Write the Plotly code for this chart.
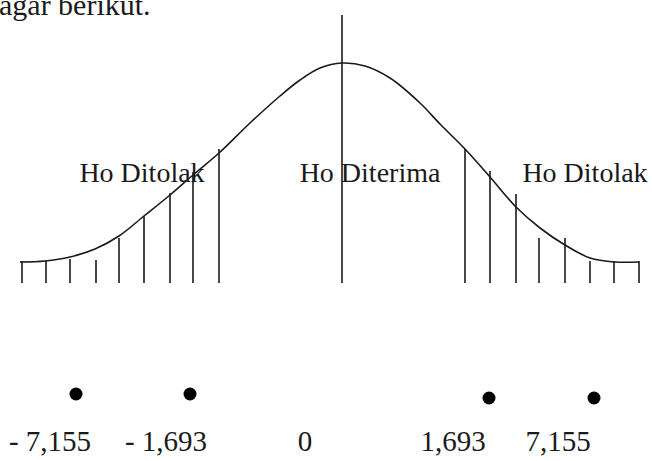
import plotly.graph_objects as go

# bell curve (x: offset from the centre line, y: height above the hatch base)
curve_x = [-322, -297, -272, -247, -223, -198, -172, -149, -123, -92, -62, -42, -22, 0,
           23, 48, 78, 98, 123, 148, 174, 198, 223, 248, 273, 297]
curve_y = [21, 22, 26, 34, 47, 67, 88, 108, 130, 160, 187, 203, 215, 220,
           217, 205, 180, 159, 134, 106, 76, 55, 38, 25, 21, 21]

# hatching of the rejection regions
left_hatch_x = [-320, -296, -272, -246, -223, -198, -172, -149, -123]
left_hatch_top = [22, 22, 24, 23, 45, 67, 90, 111, 134]
right_hatch_x = [123, 148, 174, 197, 223, 248, 272, 297]
right_hatch_top = [134, 112, 89, 45, 45, 22, 22, 22]

centre_top = 268

region_text = ["Ho Ditolak", "Ho Diterima", "Ho Ditolak"]
region_x = [-200, 28, 243]
region_y = [108, 108, 108]

dot_x = [-266, -152, 147, 252]
dot_y = [-111, -111, -115, -115]

tick_text = ["- 7,155", "- 1,693", "0", "1,693", "7,155"]
tick_x = [-292, -176, -37, 111, 216]
tick_y = -161

ink = "#1a1a1a"
serif = "Liberation Serif, Times New Roman, serif"

hx, hy = [], []
for xs, tops in ((left_hatch_x, left_hatch_top), (right_hatch_x, right_hatch_top)):
    for x, t in zip(xs, tops):
        hx += [x, x, None]
        hy += [0, t, None]

fig = go.Figure()
fig.add_trace(go.Scatter(x=hx, y=hy, mode="lines", line=dict(color=ink, width=1.6),
                         hoverinfo="skip"))
fig.add_trace(go.Scatter(x=[0, 0], y=[0, centre_top], mode="lines",
                         line=dict(color=ink, width=1.6), hoverinfo="skip"))
fig.add_trace(go.Scatter(x=curve_x, y=curve_y, mode="lines",
                         line=dict(color=ink, width=1.6, shape="spline", smoothing=1)))
fig.add_trace(go.Scatter(x=dot_x, y=dot_y, mode="markers",
                         marker=dict(color="black", size=13)))
fig.add_trace(go.Scatter(x=tick_x, y=[tick_y] * len(tick_x), mode="text", text=tick_text,
                         textfont=dict(family=serif, size=29, color=ink)))
fig.add_trace(go.Scatter(x=region_x, y=region_y, mode="text", text=region_text,
                         textfont=dict(family=serif, size=28, color=ink)))

# tail end of the sentence above the figure, cut off by the top edge as in the source
fig.add_annotation(x=-0.004, y=1.0, xref="paper", yref="paper", text="agar berikut.",
                   showarrow=False, xanchor="left", yanchor="middle", yshift=-4,
                   font=dict(family=serif, size=30, color=ink))

fig.update_xaxes(range=[-342, 310], visible=False)
fig.update_yaxes(range=[-178, 283], visible=False)
fig.update_layout(width=652, height=461, margin=dict(l=0, r=0, t=0, b=0),
                  plot_bgcolor="white", paper_bgcolor="white", showlegend=False)

# drop the page's default body margin so the figure sits at the window corner
fig.write_html("out.html", config={"displayModeBar": False},
               post_script="document.body.style.margin='0';")
